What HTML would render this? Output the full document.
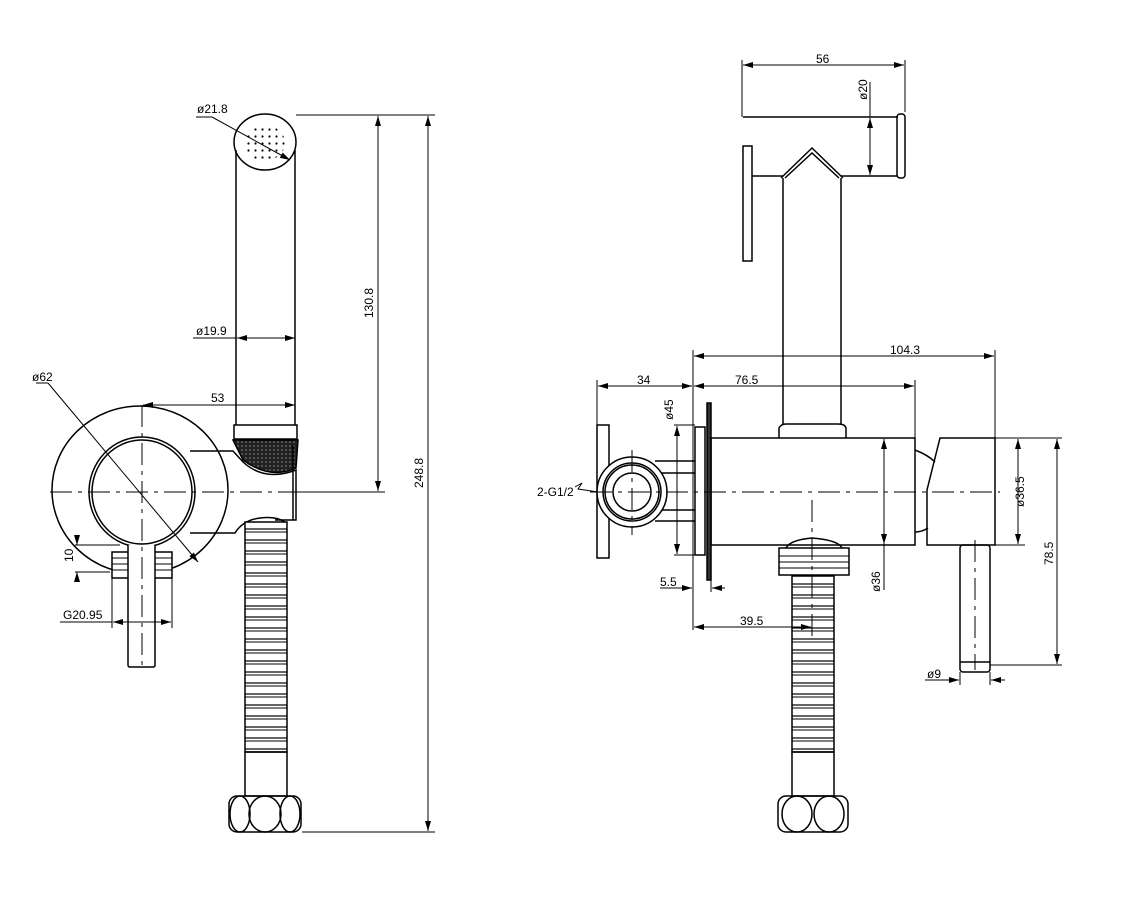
<!DOCTYPE html>
<html><head><meta charset="utf-8"><style>
html,body{margin:0;padding:0;background:#fff}
svg{display:block}
text{font-family:"Liberation Sans",sans-serif;font-size:12px;fill:#000}
</style></head><body>
<svg width="1133" height="905" viewBox="0 0 1133 905" xmlns="http://www.w3.org/2000/svg">
<defs>
<marker id="a" viewBox="0 0 10 6" refX="10" refY="3" markerWidth="10" markerHeight="6" orient="auto-start-reverse" markerUnits="userSpaceOnUse"><path d="M0,0 L10,3 L0,6 z" fill="#000"/></marker>
<pattern id="rings" x="0" y="0" width="10" height="11" patternUnits="userSpaceOnUse"><rect width="10" height="11" fill="#fff"/><line x1="0" y1="1" x2="10" y2="1" stroke="#000" stroke-width="1.2"/><line x1="0" y1="4" x2="10" y2="4" stroke="#000" stroke-width="1"/></pattern>
<pattern id="knurl" width="4" height="4" patternUnits="userSpaceOnUse"><rect width="4" height="4" fill="#222"/><circle cx="2" cy="2" r="0.8" fill="#888"/></pattern>
<pattern id="dots" width="7" height="7" patternUnits="userSpaceOnUse"><rect width="7" height="7" fill="#fff"/><circle cx="3.5" cy="3.5" r="1.1" fill="#000"/></pattern>
</defs>

<g fill="none" stroke="#000" stroke-width="1.5">
<!-- LEFT VIEW -->
<ellipse cx="265" cy="142" rx="31" ry="28"/>
<ellipse cx="264" cy="143" rx="21" ry="18" fill="url(#dots)" stroke="none"/>
<line x1="236" y1="150" x2="236" y2="425"/><line x1="295" y1="150" x2="295" y2="425"/>
<rect x="234" y="425" width="63" height="14"/>
<path d="M233,440 L298,440 L296,468 Q270,480 243,460 Z" fill="url(#knurl)"/>
<ellipse cx="140" cy="490" rx="88" ry="84"/>
<ellipse cx="142" cy="492" rx="53" ry="55"/>
<ellipse cx="142" cy="492" rx="50" ry="52"/>
<path d="M190,451 L233,451 L243,462 Q265,482 296,470 L296,520 L275,520"/>
<path d="M190,533 L235,533 Q243,520 260,518 Q276,516 285,522"/>
<line x1="293" y1="445" x2="293" y2="520"/>
<rect x="112" y="552" width="60" height="26" fill="#fff"/>
<line x1="112" y1="558" x2="172" y2="558" stroke-width="1"/><line x1="112" y1="564" x2="172" y2="564" stroke-width="1"/><line x1="112" y1="570" x2="172" y2="570" stroke-width="1"/>
<path d="M128,545 L128,665 Q128,667 130,667 L153,667 Q155,667 155,665 L155,545" fill="#fff"/>
<rect x="245" y="522" width="42" height="230" fill="url(#rings)"/>
<rect x="245" y="752" width="42" height="44"/>
<rect x="229" y="796" width="72" height="36" rx="8"/>
<ellipse cx="240" cy="814" rx="10" ry="18"/><ellipse cx="265" cy="814" rx="16" ry="18"/><ellipse cx="290" cy="814" rx="10" ry="18"/>

<!-- RIGHT VIEW -->
<path d="M743,117 L898,117 M841,176 L898,176"/>
<rect x="897" y="114" width="8" height="64" rx="3"/>
<rect x="743" y="146" width="9" height="115"/>
<line x1="752" y1="176" x2="783" y2="176"/>
<path d="M781,178 L812,148 L843,178 M785,178 L812,153 L839,178"/>
<line x1="783" y1="178" x2="783" y2="425"/><line x1="841" y1="178" x2="841" y2="425"/>
<path d="M779,438 L779,428 Q781,424 786,424 L838,424 Q845,424 846,428 L846,438"/>
<rect x="711" y="438" width="204" height="107"/>
<rect x="707" y="403" width="4" height="177" fill="#333"/>
<rect x="695" y="427" width="10" height="128"/>
<rect x="597" y="425" width="12" height="133"/>
<path d="M655,461 L695,461 M655,473 L695,473 M655,510 L695,510 M655,521 L695,521"/>
<circle cx="632" cy="492" r="35" fill="#fff"/><circle cx="632" cy="492" r="29"/><circle cx="632" cy="492" r="27"/><circle cx="632" cy="492" r="19"/>
<path d="M915,450 Q928,455 935,462 M915,532 Q922,532 928,528"/>
<path d="M940,438 L995,438 L995,545 L927,545 L927,490 Z"/>
<rect x="960" y="545" width="30" height="127" rx="3"/>
<line x1="960" y1="662" x2="990" y2="662"/>
<rect x="779" y="548" width="70" height="27"/>
<path d="M786,548 Q790,540 812,538 Q838,540 842,548"/>
<line x1="779" y1="556" x2="849" y2="556" stroke-width="1"/><line x1="779" y1="562" x2="849" y2="562" stroke-width="1"/><line x1="779" y1="568" x2="849" y2="568" stroke-width="1"/>
<rect x="792" y="576" width="42" height="176" fill="url(#rings)"/>
<rect x="792" y="752" width="42" height="44"/>
<rect x="778" y="796" width="70" height="36" rx="8"/>
<ellipse cx="797" cy="814" rx="15" ry="18"/><ellipse cx="829" cy="814" rx="15" ry="18"/>
</g>

<!-- center lines -->
<g stroke="#000" stroke-width="1" stroke-dasharray="22,6,4,6" fill="none">
<line x1="50" y1="492" x2="305" y2="492"/><line x1="142" y1="405" x2="142" y2="670"/>
<line x1="590" y1="492" x2="1000" y2="492"/><line x1="632" y1="450" x2="632" y2="535"/>
<line x1="812" y1="500" x2="812" y2="640"/><line x1="975" y1="540" x2="975" y2="670"/>
</g>

<!-- dims -->
<g stroke="#000" stroke-width="1" fill="none">
<path d="M296,115 L435,115 M300,492 L385,492 M302,832 L435,832"/>
<line x1="378" y1="116" x2="378" y2="491" marker-start="url(#a)" marker-end="url(#a)"/>
<line x1="428" y1="116" x2="428" y2="831" marker-start="url(#a)" marker-end="url(#a)"/>
<line x1="193" y1="338" x2="236" y2="338" /><line x1="237" y1="338" x2="295" y2="338" marker-start="url(#a)" marker-end="url(#a)"/>
<line x1="143" y1="405" x2="295" y2="405" marker-start="url(#a)" marker-end="url(#a)"/>
<line x1="36" y1="383" x2="48" y2="383"/><line x1="48" y1="383" x2="198" y2="562" marker-end="url(#a)"/>
<line x1="196" y1="117" x2="212" y2="117"/><line x1="212" y1="117" x2="290" y2="160" marker-end="url(#a)"/>
<path d="M75,545 L120,545 M75,572 L110,572"/>
<line x1="77" y1="537" x2="77" y2="545" marker-end="url(#a)"/><line x1="77" y1="580" x2="77" y2="572" marker-end="url(#a)"/>
<line x1="112" y1="578" x2="112" y2="628"/><line x1="172" y1="578" x2="172" y2="628"/>
<line x1="60" y1="622" x2="112" y2="622"/><line x1="113" y1="622" x2="171" y2="622" marker-start="url(#a)" marker-end="url(#a)"/>

<path d="M742,60 L742,117 M905,60 L905,112"/>
<line x1="743" y1="65" x2="904" y2="65" marker-start="url(#a)" marker-end="url(#a)"/>
<line x1="870" y1="82" x2="870" y2="117"/><line x1="870" y1="118" x2="870" y2="175" marker-start="url(#a)" marker-end="url(#a)"/>
<path d="M693,350 L693,630 M995,350 L995,438 M597,380 L597,425 M915,380 L915,438"/>
<line x1="694" y1="356" x2="994" y2="356" marker-start="url(#a)" marker-end="url(#a)"/>
<line x1="598" y1="386" x2="692" y2="386" marker-start="url(#a)" marker-end="url(#a)"/>
<line x1="694" y1="386" x2="914" y2="386" marker-start="url(#a)" marker-end="url(#a)"/>
<path d="M674,425 L695,425 M674,555 L695,555"/>
<line x1="677" y1="426" x2="677" y2="554" marker-start="url(#a)" marker-end="url(#a)"/>
<line x1="884" y1="439" x2="884" y2="590" /><line x1="884" y1="439" x2="884" y2="544" marker-start="url(#a)" marker-end="url(#a)"/>
<path d="M995,438 L1062,438 M995,545 L1025,545 M990,665 L1062,665"/>
<line x1="1018" y1="439" x2="1018" y2="544" marker-start="url(#a)" marker-end="url(#a)"/>
<line x1="1057" y1="439" x2="1057" y2="664" marker-start="url(#a)" marker-end="url(#a)"/>
<line x1="660" y1="588" x2="692" y2="588" marker-end="url(#a)"/><line x1="725" y1="588" x2="712" y2="588" marker-end="url(#a)"/>
<line x1="711" y1="580" x2="711" y2="592"/>
<line x1="694" y1="627" x2="811" y2="627" marker-start="url(#a)" marker-end="url(#a)"/>
<path d="M960,672 L960,685 M990,672 L990,685"/>
<line x1="925" y1="680" x2="959" y2="680" marker-end="url(#a)"/><line x1="1005" y1="680" x2="991" y2="680" marker-end="url(#a)"/>
<path d="M575,487 L582,483 L578,489 L598,492" />
</g>

<g>
<text x="197" y="113">ø21.8</text>
<text x="373" y="318" transform="rotate(-90 373 318)">130.8</text>
<text x="423" y="488" transform="rotate(-90 423 488)">248.8</text>
<text x="196" y="335">ø19.9</text>
<text x="32" y="381">ø62</text>
<text x="211" y="402">53</text>
<text x="73" y="562" transform="rotate(-90 73 562)">10</text>
<text x="63" y="619">G20.95</text>
<text x="816" y="63">56</text>
<text x="867" y="100" transform="rotate(-90 867 100)">ø20</text>
<text x="890" y="354">104.3</text>
<text x="637" y="384">34</text>
<text x="735" y="384">76.5</text>
<text x="673" y="420" transform="rotate(-90 673 420)">ø45</text>
<text x="537" y="496">2-G1/2</text>
<text x="880" y="592" transform="rotate(-90 880 592)">ø36</text>
<text x="1024" y="507" transform="rotate(-90 1024 507)">ø36.5</text>
<text x="1053" y="565" transform="rotate(-90 1053 565)">78.5</text>
<text x="660" y="586">5.5</text>
<text x="740" y="625">39.5</text>
<text x="927" y="678">ø9</text>
</g>
</svg>
</body></html>
